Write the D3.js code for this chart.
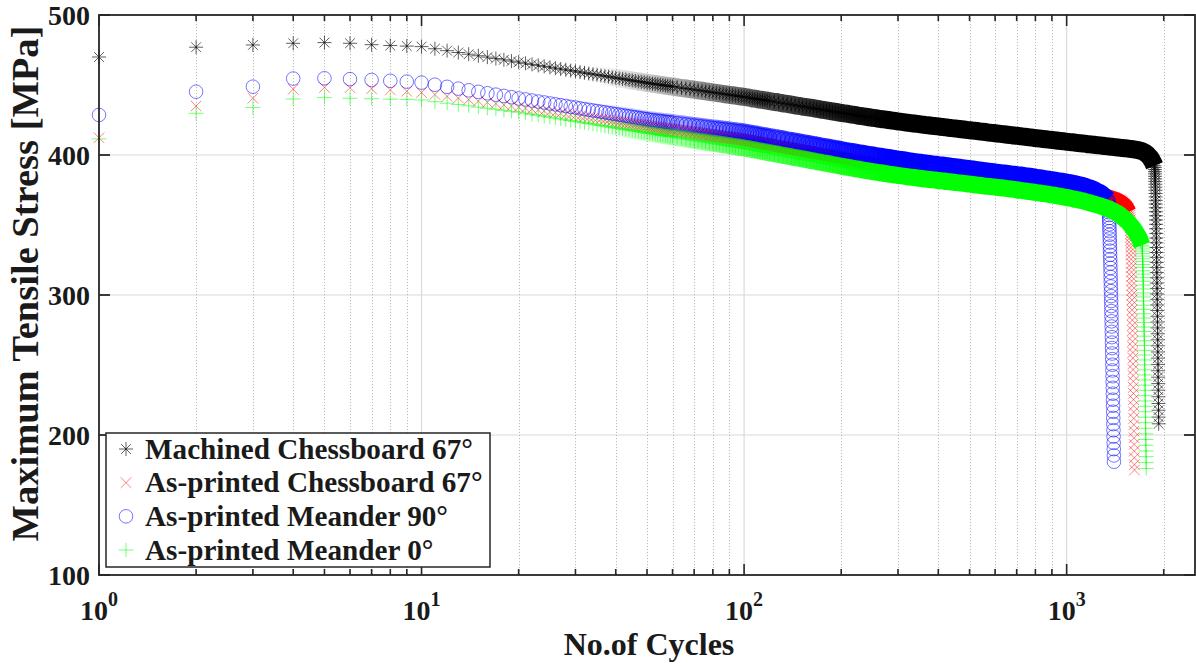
<!DOCTYPE html>
<html>
<head>
<meta charset="utf-8">
<script src="https://cdn.jsdelivr.net/npm/d3@7"></script>
<style>
  html, body { margin: 0; padding: 0; background: #fff; }
  svg { display: block; }
  text { font-family: "Liberation Serif", "Times New Roman", serif; font-weight: bold; fill: #1a1a1a; }
</style>
</head>
<body>
<svg id="chart" width="1196" height="666"></svg>
<script>
// Cycle numbers at which stress is sampled (every cycle early on, coarser later).
const cycles = [].concat(
  d3.range(1, 61),
  d3.range(62, 121, 2),
  d3.range(124, 241, 4),
  d3.range(248, 481, 8),
  d3.range(496, 1873, 16)
);

// Maximum tensile stress [MPa] at each sampled cycle, per specimen.
const stressMachined = [
  470.0, 477.0, 478.6, 479.8, 480.3, 479.8, 478.8, 478.2, 477.8, 477.4,
  475.9, 474.5, 473.2, 472.0, 470.9, 469.9, 468.9, 468.0, 467.1, 466.3,
  465.5, 464.7, 464.0, 463.3, 462.7, 462.0, 461.4, 460.9, 460.3, 459.8,
  459.2, 458.7, 458.2, 457.7, 457.3, 456.8, 456.4, 456.0, 455.5, 455.1,
  454.7, 454.3, 454.0, 453.6, 453.2, 452.9, 452.5, 452.2, 451.9, 451.5,
  451.2, 450.9, 450.7, 450.4, 450.1, 449.9, 449.6, 449.4, 449.1, 448.9,
  448.4, 447.9, 447.5, 447.1, 446.7, 446.2, 445.9, 445.5, 445.1, 444.7,
  444.4, 444.0, 443.7, 443.3, 443.0, 442.7, 442.4, 442.1, 441.8, 441.5,
  441.2, 440.9, 440.5, 440.2, 439.9, 439.6, 439.4, 439.1, 438.8, 438.5,
  438.0, 437.5, 436.9, 436.5, 436.0, 435.5, 435.1, 434.6, 434.2, 433.8,
  433.4, 433.0, 432.6, 432.2, 431.9, 431.5, 431.1, 430.8, 430.5, 430.1,
  429.8, 429.5, 429.2, 428.9, 428.6, 428.3, 428.0, 427.8, 427.5, 427.2,
  426.7, 426.3, 425.8, 425.4, 425.0, 424.6, 424.2, 423.8, 423.5, 423.1,
  422.8, 422.5, 422.2, 421.9, 421.6, 421.3, 421.1, 420.8, 420.6, 420.4,
  420.1, 419.9, 419.7, 419.4, 419.2, 419.0, 418.8, 418.6, 418.4, 418.2,
  417.8, 417.4, 417.1, 416.7, 416.4, 416.0, 415.7, 415.4, 415.1, 414.8,
  414.5, 414.2, 413.9, 413.7, 413.4, 413.1, 412.9, 412.6, 412.4, 412.1,
  411.9, 411.7, 411.4, 411.2, 411.0, 410.8, 410.6, 410.4, 410.2, 410.0,
  409.8, 409.6, 409.4, 409.2, 409.1, 408.9, 408.7, 408.5, 408.4, 408.2,
  408.1, 407.9, 407.7, 407.6, 407.4, 407.3, 407.1, 407.0, 406.9, 406.7,
  406.6, 406.4, 406.3, 406.2, 406.0, 405.9, 405.8, 405.6, 405.5, 405.4,
  405.3, 405.1, 405.0, 404.9, 404.8, 404.7, 404.5, 404.4, 404.3, 404.2,
  404.0, 403.9, 403.7, 403.5, 403.3, 403.0, 402.7, 402.3, 401.8, 401.2,
  400.5, 399.6, 398.6, 397.4, 396.0, 394.3, 392.3
];

const stressChessboard = [
  412.3, 435.0, 440.5, 447.0, 448.3, 448.0, 447.3, 446.5, 445.5, 444.6,
  443.2, 441.9, 440.7, 439.6, 438.5, 437.6, 436.7, 435.8, 435.0, 434.2,
  433.5, 432.8, 432.2, 431.5, 430.9, 430.3, 429.8, 429.2, 428.7, 428.2,
  427.7, 427.2, 426.8, 426.3, 425.9, 425.5, 425.1, 424.7, 424.3, 423.9,
  423.5, 423.2, 422.8, 422.5, 422.1, 421.8, 421.5, 421.2, 420.9, 420.6,
  420.2, 420.0, 419.7, 419.4, 419.2, 418.9, 418.7, 418.4, 418.2, 418.0,
  417.5, 417.1, 416.6, 416.2, 415.8, 415.4, 415.0, 414.6, 414.3, 413.9,
  413.6, 413.2, 412.9, 412.6, 412.3, 412.0, 411.7, 411.4, 411.1, 410.8,
  410.4, 410.1, 409.7, 409.4, 409.0, 408.7, 408.4, 408.1, 407.7, 407.4,
  406.8, 406.2, 405.7, 405.1, 404.6, 404.1, 403.5, 403.1, 402.6, 402.1,
  401.7, 401.2, 400.8, 400.3, 399.9, 399.5, 399.1, 398.7, 398.4, 398.0,
  397.6, 397.3, 396.9, 396.6, 396.3, 395.9, 395.6, 395.3, 395.1, 394.8,
  394.2, 393.7, 393.2, 392.8, 392.3, 391.9, 391.5, 391.1, 390.8, 390.4,
  390.1, 389.8, 389.5, 389.2, 388.9, 388.6, 388.4, 388.1, 387.9, 387.7,
  387.4, 387.2, 387.0, 386.7, 386.5, 386.3, 386.1, 385.9, 385.6, 385.4,
  385.0, 384.7, 384.3, 383.9, 383.6, 383.2, 382.9, 382.6, 382.2, 381.9,
  381.6, 381.3, 381.1, 380.8, 380.5, 380.2, 380.0, 379.7, 379.5, 379.2,
  379.0, 378.7, 378.5, 378.3, 378.0, 377.8, 377.6, 377.4, 377.2, 377.0,
  376.8, 376.6, 376.4, 376.2, 376.0, 375.7, 375.5, 375.3, 375.0, 374.8,
  374.5, 374.3, 374.0, 373.8, 373.5, 373.2, 373.0, 372.7, 372.4, 372.1,
  371.8, 371.5, 371.2, 370.8, 370.5, 370.1, 369.7, 369.3, 368.9, 368.4,
  367.9, 367.3, 366.6, 365.8, 364.8, 363.6, 362.0, 359.8
];

const stressMeander90 = [
  428.6, 445.2, 448.8, 454.6, 454.8, 454.2, 453.6, 453.0, 452.4, 451.7,
  450.2, 448.7, 447.4, 446.2, 445.1, 444.1, 443.1, 442.2, 441.3, 440.4,
  439.7, 438.9, 438.2, 437.5, 436.8, 436.2, 435.6, 435.0, 434.4, 433.9,
  433.3, 432.8, 432.3, 431.8, 431.4, 430.9, 430.5, 430.0, 429.6, 429.2,
  428.8, 428.4, 428.0, 427.6, 427.3, 426.9, 426.6, 426.2, 425.9, 425.6,
  425.2, 425.0, 424.7, 424.5, 424.3, 424.0, 423.8, 423.6, 423.4, 423.1,
  422.7, 422.3, 421.9, 421.5, 421.1, 420.8, 420.4, 420.1, 419.7, 419.4,
  419.1, 418.8, 418.5, 418.2, 417.9, 417.6, 417.3, 417.0, 416.8, 416.5,
  416.1, 415.8, 415.4, 415.1, 414.8, 414.4, 414.1, 413.8, 413.5, 413.2,
  412.6, 412.0, 411.5, 410.9, 410.4, 409.9, 409.4, 408.9, 408.4, 408.0,
  407.5, 407.1, 406.6, 406.2, 405.8, 405.4, 405.0, 404.6, 404.3, 403.9,
  403.5, 403.2, 402.8, 402.5, 402.2, 401.9, 401.6, 401.3, 401.0, 400.7,
  400.2, 399.6, 399.1, 398.7, 398.2, 397.8, 397.3, 396.9, 396.6, 396.2,
  395.8, 395.5, 395.1, 394.8, 394.5, 394.2, 393.9, 393.6, 393.4, 393.1,
  392.9, 392.7, 392.4, 392.2, 391.9, 391.7, 391.5, 391.3, 391.0, 390.8,
  390.4, 390.0, 389.6, 389.2, 388.8, 388.5, 388.1, 387.8, 387.4, 387.1,
  386.8, 386.5, 386.2, 386.0, 385.7, 385.4, 385.1, 384.8, 384.5, 384.2,
  383.9, 383.6, 383.3, 383.0, 382.7, 382.4, 382.2, 381.9, 381.6, 381.3,
  381.1, 380.8, 380.5, 380.2, 379.9, 379.6, 379.3, 378.9, 378.6, 378.3,
  377.8, 377.3, 376.8, 376.4, 375.9, 375.2, 374.6, 373.9, 373.3, 372.6,
  371.7, 370.5, 369.3, 368.2
];

const stressMeander0 = [
  411.5, 429.8, 434.0, 440.0, 441.0, 440.5, 440.2, 439.9, 439.7, 439.3,
  438.1, 437.0, 436.0, 435.1, 434.2, 433.4, 432.6, 431.9, 431.2, 430.6,
  429.8, 429.0, 428.3, 427.6, 427.0, 426.3, 425.7, 425.1, 424.6, 424.0,
  423.5, 423.0, 422.5, 422.0, 421.5, 421.1, 420.6, 420.2, 419.8, 419.4,
  419.0, 418.6, 418.2, 417.8, 417.5, 417.1, 416.8, 416.4, 416.1, 415.8,
  415.5, 415.2, 414.9, 414.6, 414.3, 414.0, 413.8, 413.5, 413.2, 413.0,
  412.5, 412.0, 411.5, 411.0, 410.6, 410.1, 409.7, 409.3, 408.9, 408.5,
  408.1, 407.7, 407.3, 407.0, 406.6, 406.3, 406.0, 405.6, 405.3, 405.0,
  404.6, 404.3, 403.9, 403.6, 403.2, 402.9, 402.6, 402.2, 401.9, 401.6,
  401.0, 400.4, 399.8, 399.3, 398.7, 398.2, 397.7, 397.2, 396.7, 396.2,
  395.8, 395.3, 394.9, 394.4, 394.0, 393.6, 393.2, 392.8, 392.4, 392.1,
  391.7, 391.3, 391.0, 390.7, 390.3, 390.0, 389.7, 389.4, 389.1, 388.8,
  388.3, 387.8, 387.3, 386.9, 386.4, 386.0, 385.6, 385.2, 384.9, 384.5,
  384.2, 383.9, 383.6, 383.3, 383.0, 382.8, 382.5, 382.3, 382.1, 381.8,
  381.6, 381.4, 381.1, 380.9, 380.7, 380.5, 380.3, 380.1, 379.9, 379.7,
  379.3, 378.9, 378.5, 378.2, 377.8, 377.5, 377.2, 376.9, 376.6, 376.3,
  376.0, 375.7, 375.4, 375.0, 374.7, 374.4, 374.1, 373.8, 373.6, 373.3,
  373.0, 372.7, 372.4, 372.2, 371.9, 371.6, 371.3, 371.0, 370.7, 370.4,
  370.1, 369.8, 369.5, 369.2, 368.9, 368.5, 368.2, 367.9, 367.6, 367.3,
  366.9, 366.5, 366.1, 365.7, 365.3, 365.0, 364.6, 364.2, 363.9, 363.4,
  363.0, 362.6, 362.1, 361.8, 361.2, 360.6, 360.1, 359.5, 358.9, 358.4,
  357.6, 356.6, 355.7, 354.8, 353.9, 353.0, 352.0, 350.8, 349.5, 348.2,
  347.0, 345.5, 343.8, 342.2, 340.6, 338.1, 335.6
];

// Final failure: stress at every cycle from the first listed cycle onward.
const failStartMachined = 1876;
const failMachined = [
  391.0, 389.6, 388.1, 386.5, 384.8, 383.0, 381.1, 379.1, 377.0, 374.8,
  372.5, 370.1, 367.6, 365.0, 362.3, 359.5, 356.6, 353.6, 350.5, 347.3,
  344.0, 340.7, 337.3, 333.9, 330.4, 326.9, 323.3, 319.7, 316.0, 312.3,
  308.5, 304.7, 300.8, 296.9, 292.9, 288.9, 284.8, 280.7, 276.5, 272.3,
  268.0, 263.7, 259.3, 254.9, 250.4, 245.9, 241.3, 236.7, 232.0, 227.3,
  222.5, 217.7, 212.8, 208.0
];
const failStartChessboard = 1570;
const failChessboard = [
  358.5, 357.0, 355.4, 353.7, 351.9, 350.0, 348.0, 345.9, 343.7, 341.4,
  339.0, 336.5, 333.9, 331.2, 328.4, 325.5, 322.5, 319.5, 316.4, 313.2,
  310.0, 306.7, 303.3, 299.9, 296.4, 292.9, 289.3, 285.7, 282.0, 278.3,
  274.5, 270.7, 266.8, 262.9, 258.9, 254.9, 250.8, 246.7, 242.5, 238.3,
  234.0, 229.7, 225.3, 220.9, 216.4, 211.9, 207.3, 202.7, 198.0, 193.3,
  188.5, 183.7, 178.8, 175.0
];
const failStartMeander90 = 1347;
const failMeander90 = [
  367.0, 365.8, 364.4, 362.8, 361.0, 359.1, 357.1, 355.0, 352.8, 350.5,
  348.1, 345.6, 343.0, 340.3, 337.5, 334.6, 331.7, 328.7, 325.6, 322.5,
  319.3, 316.1, 312.8, 309.5, 306.1, 302.7, 299.2, 295.7, 292.1, 288.5,
  284.9, 281.2, 277.5, 273.7, 269.9, 266.0, 262.1, 258.2, 254.2, 250.2,
  246.1, 242.0, 237.9, 233.7, 229.5, 225.2, 220.9, 216.6, 212.2, 207.8,
  203.4, 198.9, 194.4, 189.9, 185.4, 180.9
];
const failStartMeander0 = 1715;
const failMeander0 = [
  334.4, 332.9, 331.3, 329.6, 327.8, 325.9, 323.9, 321.8, 319.6, 317.3,
  314.9, 312.4, 309.8, 307.1, 304.3, 301.5, 298.6, 295.7, 292.7, 289.7,
  286.6, 283.5, 280.3, 277.1, 273.9, 270.6, 267.3, 263.9, 260.5, 257.1,
  253.6, 250.1, 246.5, 242.9, 239.3, 235.6, 231.9, 228.1, 224.3, 220.5,
  216.6, 212.7, 208.8, 204.8, 200.8, 196.8, 192.7, 188.6, 184.5, 180.3,
  176.1
];

const seriesNames = [
  "Machined Chessboard 67°",
  "As-printed Chessboard 67°",
  "As-printed Meander 90°",
  "As-printed Meander 0°"
];
const yTicks = [100, 200, 300, 400, 500];
const xDecades = [1, 10, 100, 1000];
const xTitle = "No.of Cycles";
const yTitle = "Maximum Tensile Stress [MPa]";

// ---- layout ----
const W = 1196, H = 666;
const plot = { left: 99, right: 1195, top: 15, bottom: 575 };

const x = d3.scaleLog().domain([1, 2500]).range([plot.left, plot.right]);
const y = d3.scaleLinear().domain([100, 500]).range([plot.bottom, plot.top]);

const svg = d3.select("#chart");
svg.append("rect").attr("width", W).attr("height", H).attr("fill", "#fff");
const defs = svg.append("defs");

// ---- grid ----
const grid = svg.append("g");
const minorX = [];
xDecades.forEach(d => { for (let k = 2; k <= 9; k++) { const v = d * k; if (v < 2500) minorX.push(v); } });

grid.selectAll(".gy").data(yTicks.filter(t => t > 100 && t < 500)).join("line")
  .attr("x1", plot.left).attr("x2", plot.right)
  .attr("y1", d => y(d)).attr("y2", d => y(d))
  .attr("stroke", "#dadada").attr("stroke-width", 1.2);

grid.selectAll(".gxm").data(minorX).join("line")
  .attr("x1", d => Math.round(x(d)) + 0.5).attr("x2", d => Math.round(x(d)) + 0.5)
  .attr("y1", plot.top).attr("y2", plot.bottom)
  .attr("stroke", "#b4b4b4").attr("stroke-width", 0.9)
  .attr("stroke-dasharray", "1.2,1.8");

grid.selectAll(".gxM").data(xDecades.filter(d => d > 1)).join("line")
  .attr("x1", d => x(d)).attr("x2", d => x(d))
  .attr("y1", plot.top).attr("y2", plot.bottom)
  .attr("stroke", "#dadada").attr("stroke-width", 1.2);

// ---- markers ----
const symbols = {
  asterisk: "M-7,0H7M0,-7V7M-4.9,-4.9L4.9,4.9M-4.9,4.9L4.9,-4.9",
  cross: "M-5.3,-5.3L5.3,5.3M-5.3,5.3L5.3,-5.3",
  plus: "M-7.5,0H7.5M0,-7V7"
};

const series = [
  { key: "mc", name: seriesNames[0], values: stressMachined, failStart: failStartMachined, fail: failMachined, color: "#000000", shape: "asterisk", band: 18, op: 0.7 },
  { key: "ac", name: seriesNames[1], values: stressChessboard, failStart: failStartChessboard, fail: failChessboard, color: "#ff0000", shape: "cross", band: 13, op: 0.55 },
  { key: "m90", name: seriesNames[2], values: stressMeander90, failStart: failStartMeander90, fail: failMeander90, color: "#0000ff", shape: "circle", band: 17, op: 0.6 },
  { key: "m0", name: seriesNames[3], values: stressMeander0, failStart: failStartMeander0, fail: failMeander0, color: "#00ff00", shape: "plus", band: 17, op: 0.6 }
];

function drawMarker(sel, s) {
  if (s.shape === "circle") {
    sel.append("circle").attr("r", 6.8)
      .attr("fill", "none").attr("stroke", s.color).attr("stroke-width", 0.9)
      .attr("stroke-opacity", s.op);
  } else {
    sel.append("path").attr("d", symbols[s.shape])
      .attr("fill", "none").attr("stroke", s.color).attr("stroke-width", 0.9)
      .attr("stroke-opacity", s.op);
  }
}

const bandLine = d3.line().x(d => x(d.n)).y(d => y(d.v)).curve(d3.curveMonotoneX);

series.forEach(s => {
  const steady = s.values.map((v, i) => ({ n: cycles[i], v }));
  const pts = steady.concat(s.fail.map((v, i) => ({ n: s.failStart + i, v })));
  const g = svg.append("g");

  // where thousands of cycles overlap, the markers merge into a solid band
  const grad = defs.append("linearGradient").attr("id", "band-" + s.key)
    .attr("gradientUnits", "userSpaceOnUse")
    .attr("x1", x(35)).attr("x2", x(280)).attr("y1", 0).attr("y2", 0);
  grad.append("stop").attr("offset", 0).attr("stop-color", s.color).attr("stop-opacity", 0);
  grad.append("stop").attr("offset", 0.55).attr("stop-color", s.color).attr("stop-opacity", 0.7);
  grad.append("stop").attr("offset", 1).attr("stop-color", s.color).attr("stop-opacity", 1);

  g.append("path")
    .attr("d", bandLine(steady.filter(d => d.n >= 30)))
    .attr("fill", "none").attr("stroke", `url(#band-${s.key})`)
    .attr("stroke-width", s.band).attr("stroke-linejoin", "round");

  g.selectAll("g").data(pts).join("g")
    .attr("transform", d => `translate(${x(d.n)},${y(d.v)})`)
    .each(function () { drawMarker(d3.select(this), s); });
});

// ---- axes box and ticks ----
const axes = svg.append("g");
const axisColor = "#262626";
axes.append("rect")
  .attr("x", plot.left).attr("y", plot.top)
  .attr("width", plot.right - plot.left).attr("height", plot.bottom - plot.top)
  .attr("fill", "none").attr("stroke", axisColor).attr("stroke-width", 1.8);

const majorLen = 11, minorLen = 6;
yTicks.forEach(t => {
  axes.append("line").attr("x1", plot.left).attr("x2", plot.left + majorLen)
    .attr("y1", y(t)).attr("y2", y(t)).attr("stroke", axisColor).attr("stroke-width", 1.8);
  axes.append("line").attr("x1", plot.right).attr("x2", plot.right - majorLen)
    .attr("y1", y(t)).attr("y2", y(t)).attr("stroke", axisColor).attr("stroke-width", 1.8);
});
xDecades.concat(minorX).forEach(v => {
  const len = xDecades.includes(v) ? majorLen : minorLen;
  const px = x(v);
  axes.append("line").attr("x1", px).attr("x2", px)
    .attr("y1", plot.bottom).attr("y2", plot.bottom - len).attr("stroke", axisColor).attr("stroke-width", 1.6);
  axes.append("line").attr("x1", px).attr("x2", px)
    .attr("y1", plot.top).attr("y2", plot.top + len).attr("stroke", axisColor).attr("stroke-width", 1.6);
});

// tick labels
axes.selectAll(".yl").data(yTicks).join("text")
  .attr("x", plot.left - 9).attr("y", d => y(d) + 10)
  .attr("text-anchor", "end").attr("font-size", 28)
  .text(d => d);

xDecades.forEach(d => {
  const t = axes.append("text")
    .attr("x", x(d)).attr("y", 620)
    .attr("text-anchor", "middle").attr("font-size", 28);
  t.append("tspan").text("10");
  t.append("tspan").attr("dy", -14).attr("font-size", 20).text(String(Math.round(Math.log10(d))));
});

// axis titles
svg.append("text")
  .attr("x", (plot.left + plot.right) / 2 + 2).attr("y", 655)
  .attr("text-anchor", "middle").attr("font-size", 32)
  .text(xTitle);

svg.append("text")
  .attr("transform", `translate(38,283.5) rotate(-90)`)
  .attr("text-anchor", "middle").attr("font-size", 38.5)
  .text(yTitle);

// ---- legend ----
const leg = svg.append("g");
leg.append("rect")
  .attr("x", 106).attr("y", 433).attr("width", 384).attr("height", 134)
  .attr("fill", "#fff").attr("stroke", axisColor).attr("stroke-width", 1.5);
const rowY = d3.scalePoint().domain(seriesNames).range([449, 550]);
series.forEach(s => {
  const row = leg.append("g").attr("transform", `translate(0,${rowY(s.name)})`);
  const m = row.append("g").attr("transform", "translate(126,0)");
  drawMarker(m, s);
  row.append("text").attr("x", 145).attr("y", 9.5)
    .attr("font-size", 29.2).text(s.name);
});
</script>
</body>
</html>
